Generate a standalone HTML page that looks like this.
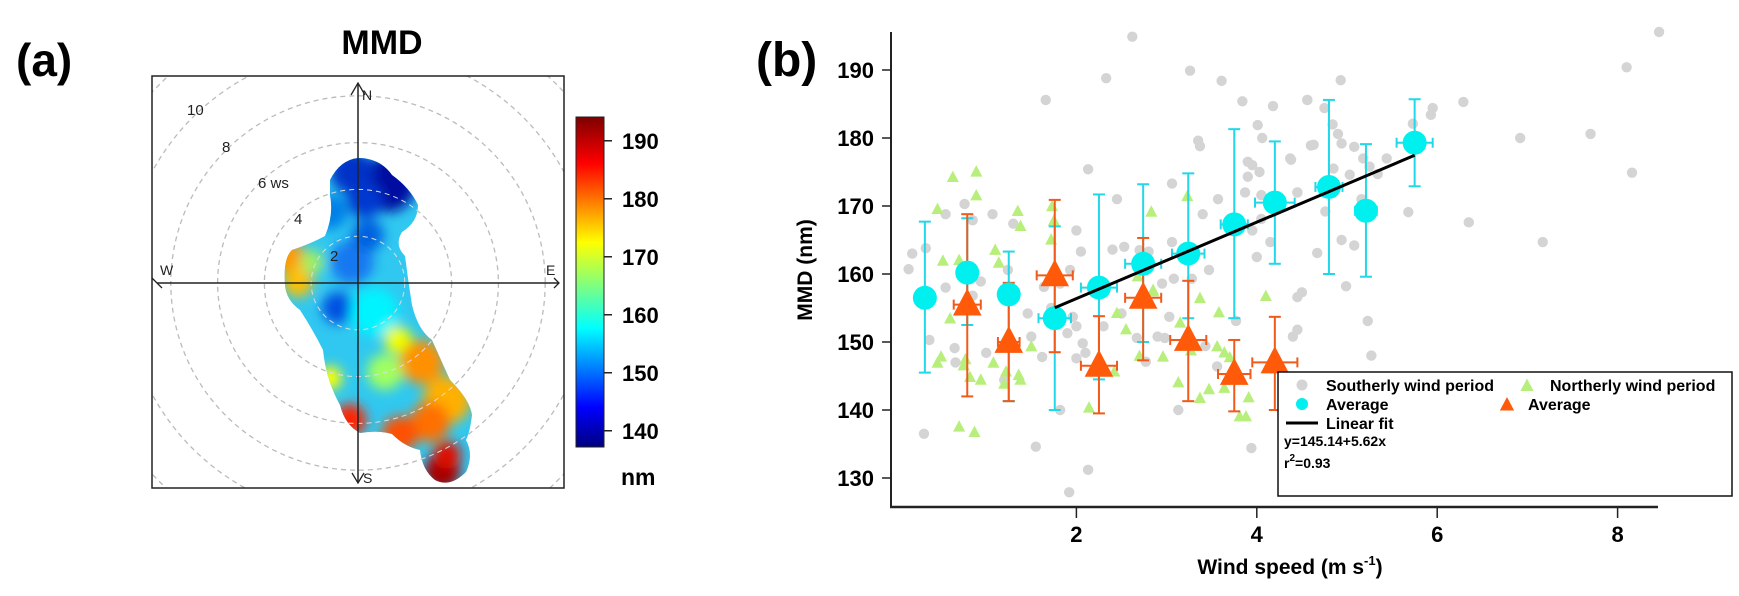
<!DOCTYPE html>
<html><head><meta charset="utf-8"><style>
html,body{margin:0;padding:0;background:#fff;}
svg{display:block;font-family:"Liberation Sans",Arial,sans-serif;}
</style></head><body>
<svg id="fig" width="1739" height="596" viewBox="0 0 1739 596" xmlns="http://www.w3.org/2000/svg">
<defs>
  <linearGradient id="jet" x1="0" y1="1" x2="0" y2="0">
    <stop offset="0" stop-color="#00007f"/><stop offset="0.12" stop-color="#0000ff"/>
    <stop offset="0.36" stop-color="#00ffff"/><stop offset="0.62" stop-color="#ffff00"/>
    <stop offset="0.86" stop-color="#ff0000"/><stop offset="1" stop-color="#7f0000"/>
  </linearGradient>
  <clipPath id="blobclip"><path d="M330,180 Q340,160 358,158 Q380,158 392,175 Q410,188 418,205 Q418,222 402,232 Q394,245 405,256 Q408,280 412,305 Q418,330 432,340 Q440,358 450,380 Q470,400 472,415 Q470,432 466,440 Q474,455 466,472 Q450,488 435,480 Q422,470 420,450 Q405,447 392,434 Q378,430 360,433 Q345,425 340,405 Q326,380 323,350 Q313,330 300,310 Q286,300 285,285 Q283,258 292,250 Q310,244 325,236 Q334,215 330,195 Z"/></clipPath>
  <filter id="blur" x="-50%" y="-50%" width="200%" height="200%"><feGaussianBlur stdDeviation="6"/></filter>
  <clipPath id="boxclip"><rect x="152" y="76" width="412" height="412"/></clipPath>
</defs>

<text x="16" y="76" font-size="46" font-weight="bold">(a)</text>
<text x="382" y="54" font-size="34" font-weight="bold" text-anchor="middle">MMD</text>
<g id="rose"></g>
<rect x="152" y="76" width="412" height="412" fill="none" stroke="#222" stroke-width="1.5"/>
<g id="cbar"></g>

<text x="756" y="76" font-size="48" font-weight="bold">(b)</text>
<g id="plotb"></g>

<script>
const NS='http://www.w3.org/2000/svg';
function mk(tag,attrs,parent,txt){const e=document.createElementNS(NS,tag);for(const k in attrs)e.setAttribute(k,attrs[k]);if(txt!==undefined)e.textContent=txt;parent.appendChild(e);return e;}

// ---------- Panel (a): rose ----------
const ringSpeeds=[2,4,6,8,10,12,14];
const ringLabels=['2','4','6 ws','8','10'];
const cbTicks=[140,150,160,170,180,190];
const cbMin=137.2, cbMax=194.1;
const roseSpotX=[388,352,330,290,298,312,352,338,374,385,398,422,447,430,330,350,400,442,447,365,368];
const roseSpotY=[184,172,212,258,282,262,262,308,312,372,340,362,400,422,378,420,434,472,455,200,235];
const roseSpotR=[28,22,18,16,15,12,22,16,24,18,14,22,24,20,12,16,18,18,14,18,16];
const roseSpotC=['#0010a0','#0030c8','#0080e8','#ff9800','#ffc000','#a0f060','#1878f0','#0050e0','#00f4ff','#a0ff60','#f0ff00','#ff9000','#ffb000','#ff7000','#ffff00','#ff2000','#ff5000','#a00000','#e01000','#0038d0','#0060e0'];
const rcx=358, rcy=283, rpu=23.4;
const rose=document.getElementById('rose');
const rg=mk('g',{'clip-path':'url(#boxclip)'},rose);
ringSpeeds.forEach(s=>{const c=mk('circle',{cx:rcx,cy:rcy,r:s*rpu,fill:'none',stroke:'#bbb','stroke-width':1.3,'stroke-dasharray':'5,4'},rg);

});
const bg=mk('g',{'clip-path':'url(#blobclip)'},rose);
mk('rect',{x:270,y:150,width:220,height:350,fill:'#30c8f0'},bg);
const bl=mk('g',{filter:'url(#blur)'},bg);
roseSpotX.forEach((x,i)=>{const c=mk('circle',{cx:x,cy:roseSpotY[i],r:roseSpotR[i],fill:roseSpotC[i]},bl);

});
[2,4,6,8].forEach(s=>mk('circle',{cx:rcx,cy:rcy,r:s*rpu,fill:'none',stroke:'#ddd','stroke-width':1,'stroke-dasharray':'5,4','clip-path':'url(#blobclip)'},rose));
mk('line',{x1:rcx,y1:83,x2:rcx,y2:483,stroke:'#222','stroke-width':1.5},rose);
mk('line',{x1:157,y1:rcy,x2:559,y2:rcy,stroke:'#222','stroke-width':1.5},rose);
mk('path',{d:'M351,95 L358,83 L365,95 M152,278 L157,283 L162,288 M554,278 L559,283 L554,288 M352,473 L358,483 L364,473',fill:'none',stroke:'#222','stroke-width':1.3},rose);
[['N',362,100],['W',160,275],['E',546,275],['S',363,483]].forEach(d=>{const t=mk('text',{x:d[1],y:d[2],'font-size':14,fill:'#222'},rose,d[0]);

});
[[330,256],[294,219],[258,183],[222,147],[187,110]].forEach((p,i)=>{const t=mk('text',{x:p[0],y:p[1]+5,'font-size':15,fill:'#222'},rose,ringLabels[i]);

});

const cb=document.getElementById('cbar');
const cbTop=117, cbBot=447;
function cy(v){return cbBot-(v-cbMin)/(cbMax-cbMin)*(cbBot-cbTop);}
mk('rect',{x:576,y:cbTop,width:28,height:cbBot-cbTop,fill:'url(#jet)',stroke:'#222','stroke-width':1},cb);
cbTicks.forEach(v=>{mk('line',{x1:604,y1:cy(v),x2:612,y2:cy(v),stroke:'#222','stroke-width':1.5},cb);
const t=mk('text',{x:622,y:cy(v)+8,'font-size':22,'font-weight':'bold'},cb,String(v));

});
mk('text',{x:621,y:485,'font-size':23,'font-weight':'bold'},cb,'nm');

// ---------- Panel (b) ----------
const yTicks=[130,140,150,160,170,180,190];
const xTicks=[2,4,6,8];
const southWs=[2.62,2.33,1.66,3.26,3.61,3.84,4.18,4.56,4.01,4.06,3.35,3.37,4.6,4.38,3.9,3.95,4.03,3.9,3.06,2.13,4.45,3.87,3.57,2.45,3.4,4.05,4.05,3.95,3.06,2.53,2.4,2.7,2.8,4.15,4.0,3.47,3.28,3.08,2.95,2.0,2.05,1.93,1.82,1.64,1.3,1.07,0.85,0.76,0.55,0.33,0.18,0.14,0.55,0.85,0.94,1.24,1.3,0.37,0.65,0.66,0.31,1.0,1.2,1.55,1.46,1.5,1.62,1.82,1.9,2.0,2.07,2.1,2.0,2.13,1.92,2.3,2.67,2.77,2.9,2.98,3.03,3.13,3.43,3.56,3.77,3.94,4.45,4.5,2.5,1.96,1.72,8.46,8.1,7.7,6.92,8.16,7.17,6.35,6.29,5.95,5.93,5.68,4.93,4.56,4.75,4.84,4.9,4.94,4.63,4.37,5.08,5.18,5.25,5.34,5.44,5.03,4.85,4.45,4.76,5.16,5.73,4.94,5.08,4.67,4.99,4.45,5.23,4.4,5.27];
const southMmd=[194.9,188.8,185.6,189.9,188.4,185.4,184.7,185.6,181.9,180,179.6,178.8,178.9,176.8,176.5,176,175,174.3,173.3,175.4,172,172,171,171,168.8,171.6,168.1,166.4,164.7,164,163.6,163.5,163.3,164.7,162.5,160.6,159.3,159.3,158.6,166.4,163.3,160.6,158.6,158.1,167.4,168.8,167.9,170.3,168.8,163.8,163,160.7,158,156.8,158.9,160.6,156.5,150.3,149.1,147,136.5,148.4,144.4,134.6,154.2,150.8,147.8,140,151.3,152.3,149.8,148.4,147.6,131.2,127.9,152.3,150.6,147.1,150.8,150.6,153.7,140,149.4,146.4,153.1,134.4,151.8,157.3,154.2,153.7,155,195.6,190.4,180.6,180,174.9,164.7,167.6,185.3,184.4,183.4,169.1,188.5,185.6,184.4,182,180.6,179.2,179,177,178.7,177,175.8,174.7,177,174.6,175.5,172,169.2,171,182.1,165,164.2,163.1,158.2,156.6,153.1,150.8,148];
const northWs=[0.63,0.89,0.89,0.46,1.35,1.38,1.73,1.75,1.72,2.83,3.23,1.1,1.14,0.52,0.7,2.68,2.85,0.6,0.5,0.46,0.77,0.75,0.82,0.94,1.08,1.2,1.22,1.36,1.38,1.5,2.14,2.42,2.45,2.7,2.85,2.96,3.13,3.15,3.27,3.37,3.37,3.47,3.58,3.56,3.64,3.64,3.7,3.81,3.88,3.91,4.1,0.7,0.87,2.55];
const northMmd=[174.2,175,171.5,169.5,169.2,167,169.9,167.8,165,169.1,171.4,163.5,161.6,161.9,162,159.6,157.4,153.4,147.8,146.9,147.4,146.5,144.8,144.4,146.9,143.8,145.6,145.1,144.4,149.3,140.3,145.6,154.2,147.9,157.6,147.8,144,152.8,148.7,156.4,141.7,143,154.3,149.3,148.4,143.2,147.7,139,139,141.8,156.7,137.5,136.7,151.8];
const southAvgWs=[0.32,0.79,1.25,1.76,2.25,2.74,3.24,3.75,4.2,4.8,5.21,5.75];
const southAvgMmd=[156.5,160.2,157,153.5,158,161.5,163,167.3,170.5,172.8,169.3,179.3];
const southAvgLo=[145.5,152.5,141.3,140,144.5,150,153.5,153.5,161.5,160,159.6,172.9];
const southAvgHi=[167.7,168.2,163.3,167,171.7,173.2,174.8,181.3,179.5,185.6,179.1,185.7];
const southAvgXerr=[0,0.1,0.1,0.18,0.2,0.2,0.18,0.15,0.22,0.15,0.12,0.2];
const northAvgWs=[0.79,1.25,1.76,2.25,2.74,3.24,3.75,4.2];
const northAvgMmd=[155.5,150,159.8,146.5,156.5,150.3,145.3,147];
const northAvgLo=[142,141.3,148.5,139.5,147.3,141.3,139.8,140];
const northAvgHi=[168.8,158.7,170.9,153.8,165.3,159,150.3,153.7];
const northAvgXerr=[0.15,0.12,0.2,0.2,0.2,0.2,0.18,0.25];
const fitA=145.14, fitB=5.62, fitX0=1.76, fitX1=5.75;

function X(v){return 896+90.2*v;}
function Y(v){return 70+(190-v)*6.8;}
const pb=document.getElementById('plotb');
mk('line',{x1:891,y1:32,x2:891,y2:507,stroke:'#222','stroke-width':2},pb);
mk('line',{x1:890,y1:507,x2:1658,y2:507,stroke:'#222','stroke-width':2.5},pb);
yTicks.forEach(v=>{mk('line',{x1:882,y1:Y(v),x2:891,y2:Y(v),stroke:'#222','stroke-width':1.5},pb);
const t=mk('text',{x:874,y:Y(v)+8,'font-size':22,'font-weight':'bold','text-anchor':'end'},pb,String(v));

});
xTicks.forEach(v=>{mk('line',{x1:X(v),y1:507,x2:X(v),y2:518,stroke:'#222','stroke-width':1.5},pb);
const t=mk('text',{x:X(v),y:542,'font-size':22,'font-weight':'bold','text-anchor':'middle'},pb,String(v));

});
const yl=mk('text',{x:0,y:0,'font-size':21,'font-weight':'bold','text-anchor':'middle',transform:'translate(812,270) rotate(-90)'},pb,'MMD (nm)');


const xl=mk('text',{x:1290,y:574,'font-size':21,'font-weight':'bold','text-anchor':'middle'},pb,'Wind speed (m s');


mk('tspan',{'font-size':13,dy:-9},xl,'-1');
mk('tspan',{dy:9},xl,')');

function tri(x,y,s){return `M${x},${y-s*0.62} L${x+s*0.55},${y+s*0.42} L${x-s*0.55},${y+s*0.42} Z`;}
southWs.forEach((w,i)=>{const c=mk('circle',{cx:X(w),cy:Y(southMmd[i]),r:5.2,fill:'#d4d4d4'},pb);

});
northWs.forEach((w,i)=>{const p=mk('path',{d:tri(X(w),Y(northMmd[i]),11),fill:'#b8ef7c'},pb);

});
function errbar(x,y,lo,hi,xe,col){
  mk('line',{x1:X(x),y1:Y(lo),x2:X(x),y2:Y(hi),stroke:col,'stroke-width':2},pb);
  [lo,hi].forEach(v=>mk('line',{x1:X(x)-6,y1:Y(v),x2:X(x)+6,y2:Y(v),stroke:col,'stroke-width':2},pb));
  if(xe>0){mk('line',{x1:X(x-xe),y1:Y(y),x2:X(x+xe),y2:Y(y),stroke:col,'stroke-width':2},pb);
  [x-xe,x+xe].forEach(v=>mk('line',{x1:X(v),y1:Y(y)-5,x2:X(v),y2:Y(y)+5,stroke:col,'stroke-width':2},pb));}
}
southAvgWs.forEach((w,i)=>errbar(w,southAvgMmd[i],southAvgLo[i],southAvgHi[i],southAvgXerr[i],'#22d8e8'));
northAvgWs.forEach((w,i)=>errbar(w,northAvgMmd[i],northAvgLo[i],northAvgHi[i],northAvgXerr[i],'#f05a1a'));
southAvgWs.forEach((w,i)=>{const c=mk('circle',{cx:X(w),cy:Y(southAvgMmd[i]),r:12,fill:'#00f0f0'},pb);

});
northAvgWs.forEach((w,i)=>{const p=mk('path',{d:tri(X(w),Y(northAvgMmd[i]),26),fill:'#ff5a0a'},pb);

});
const fl=mk('line',{x1:X(fitX0),y1:Y(fitA+fitB*fitX0),x2:X(fitX1),y2:Y(fitA+fitB*fitX1),stroke:'#000','stroke-width':3},pb);



const lg=mk('g',{},pb);


mk('rect',{x:1278,y:372,width:454,height:124,fill:'#fff',stroke:'#111','stroke-width':1.5},lg);
mk('circle',{cx:1302,cy:385,r:5.5,fill:'#d4d4d4'},lg);
mk('text',{x:1326,y:391,'font-size':16,'font-weight':'bold'},lg,'Southerly wind period');
mk('path',{d:tri(1527,386,12),fill:'#b8ef7c'},lg);
mk('text',{x:1550,y:391,'font-size':16,'font-weight':'bold'},lg,'Northerly wind period');
mk('circle',{cx:1302,cy:404,r:6,fill:'#00f0f0'},lg);
mk('text',{x:1326,y:410,'font-size':16,'font-weight':'bold'},lg,'Average');
mk('path',{d:tri(1507,405,13),fill:'#ff5a0a'},lg);
mk('text',{x:1528,y:410,'font-size':16,'font-weight':'bold'},lg,'Average');
mk('line',{x1:1286,y1:423,x2:1318,y2:423,stroke:'#000','stroke-width':3},lg);
mk('text',{x:1326,y:429,'font-size':16,'font-weight':'bold'},lg,'Linear fit');
mk('text',{x:1284,y:446,'font-size':14,'font-weight':'bold'},lg,'y=145.14+5.62x');
const r2=mk('text',{x:1284,y:468,'font-size':14,'font-weight':'bold'},lg,'r');
mk('tspan',{'font-size':10,dy:-7},r2,'2');
mk('tspan',{dy:7},r2,'=0.93');
</script>
</svg>
</body></html>
